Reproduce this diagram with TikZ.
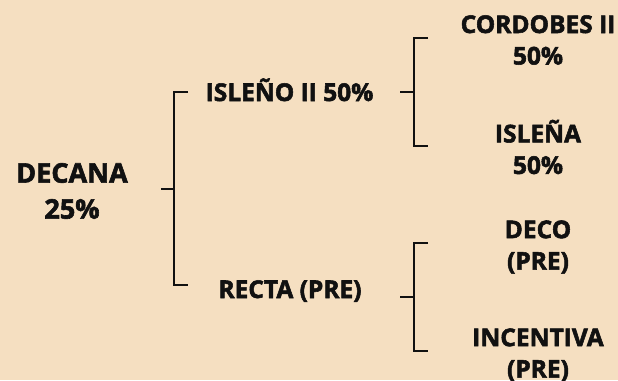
\documentclass[tikz,border=0pt]{standalone}
\usepackage{fontspec}
\setmainfont{Open Sans}[BoldFeatures={FakeBold=2.2}]
\definecolor{bg}{HTML}{F5DFC1}
\definecolor{ink}{HTML}{111111}
\begin{document}
\begin{tikzpicture}[x=1pt,y=-1pt,
  lbl/.style={font=\bfseries\fontsize{24.5}{31.5}\selectfont, text=ink, align=center, inner sep=0pt},
  big/.style={font=\bfseries\fontsize{27}{36}\selectfont, text=ink, align=center, inner sep=0pt},
  brk/.style={draw=ink, line width=2pt}]
\fill[bg] (0,0) rectangle (618,380);
\useasboundingbox (0,0) rectangle (618,380);
% text nodes
\node[big, anchor=center] (decana) at (72,191) {DECANA\\25\%};
\node[lbl, anchor=base] (isleno) at (289.5,101) {ISLEÑO II 50\%};
\node[lbl, anchor=base] (recta) at (290,298) {RECTA (PRE)};
\node[lbl, anchor=center] (cordobes) at (538,40) {CORDOBES II\\50\%};
\node[lbl, anchor=center] (islena) at (538,147) {ISLEÑA\\50\%};
\node[lbl, anchor=center] (deco) at (538,247) {DECO\\(PRE)};
\node[lbl, anchor=center] (incentiva) at (538,355) {INCENTIVA\\(PRE)};
% bracket coordinates
\coordinate (s1) at (161,189);
\coordinate (m1) at (173.5,189);
\coordinate (t1) at (188,92);
\coordinate (b1) at (188,285);
\coordinate (s2) at (400,92);
\coordinate (m2) at (414,92);
\coordinate (t2) at (428,38);
\coordinate (b2) at (428,146);
\coordinate (s3) at (400,297);
\coordinate (m3) at (414,297);
\coordinate (t3) at (428,243);
\coordinate (b3) at (428,351);
% brackets
\draw[brk] (t1) -| (m1) |- (b1);
\draw[brk] (s1) -- (m1);
\draw[brk] (t2) -| (m2) |- (b2);
\draw[brk] (s2) -- (m2);
\draw[brk] (t3) -| (m3) |- (b3);
\draw[brk] (s3) -- (m3);
\end{tikzpicture}
\end{document}
